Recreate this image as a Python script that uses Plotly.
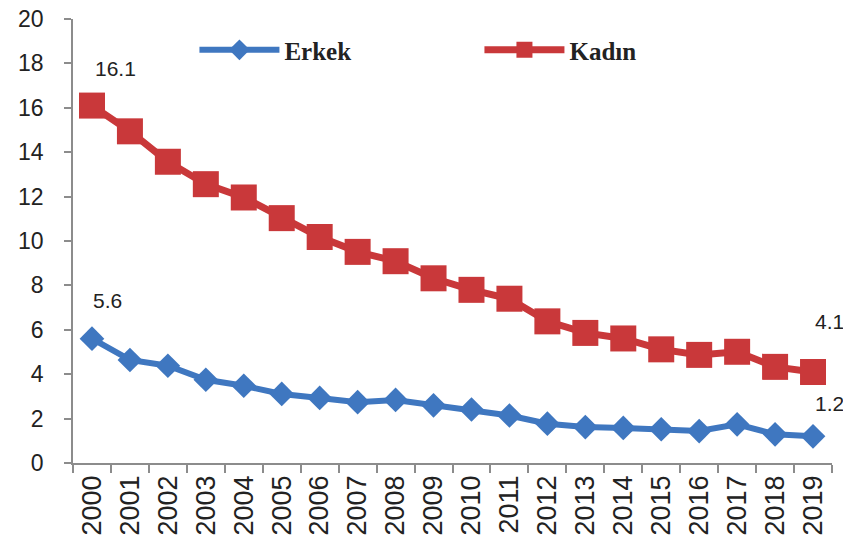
import plotly.graph_objects as go

years = [str(y) for y in range(2000, 2020)]
erkek = [5.6, 4.64, 4.38, 3.75, 3.48, 3.11, 2.93, 2.74, 2.84, 2.6,
         2.41, 2.14, 1.77, 1.62, 1.58, 1.52, 1.44, 1.74, 1.29, 1.2]
kadin = [16.1, 14.94, 13.57, 12.56, 11.96, 11.03, 10.18, 9.51, 9.09, 8.32,
         7.8, 7.4, 6.38, 5.86, 5.61, 5.12, 4.87, 5.01, 4.33, 4.1]
y_ticks = [0, 2, 4, 6, 8, 10, 12, 14, 16, 18, 20]

BLUE = "#3F77C0"
RED = "#C9383A"

fig = go.Figure()
fig.add_trace(go.Scatter(
    x=years, y=erkek, name="<b>Erkek</b>", mode="lines+markers",
    line=dict(color=BLUE, width=6),
    marker=dict(symbol="diamond", size=19, color=BLUE),
))
fig.add_trace(go.Scatter(
    x=years, y=kadin, name="<b>Kadın</b>", mode="lines+markers",
    line=dict(color=RED, width=7),
    marker=dict(symbol="square", size=26, color=RED),
))

label_font = dict(family="Liberation Sans, Arial, sans-serif", size=21, color="#222222")
for series, idx, dx, dy in [(erkek, 0, 16, 38), (kadin, 0, 24, 37),
                            (erkek, 19, 16, 33), (kadin, 19, 16, 50)]:
    fig.add_annotation(x=idx, y=series[idx], xref="x", yref="y",
                       text=f"{series[idx]:.1f}",
                       showarrow=False, xshift=dx, yshift=dy, font=label_font)

fig.update_layout(
    width=843, height=546,
    margin=dict(l=65, r=19, t=11, b=91, autoexpand=False),
    paper_bgcolor="white", plot_bgcolor="white",
    showlegend=True,
    legend=dict(
        orientation="h", x=0.16, y=0.93, xanchor="left", yanchor="middle",
        font=dict(family="Liberation Serif, Times New Roman, serif", size=25, color="#222222"),
        itemwidth=80, entrywidth=190, entrywidthmode="pixels",
        bgcolor="rgba(0,0,0,0)",
    ),
)
fig.update_xaxes(
    type="category", showgrid=False, showline=True, linecolor="#8C8C8C", linewidth=1.5,
    ticks="outside", tickson="boundaries", ticklen=8, tickcolor="#8C8C8C", tickwidth=1.5,
    tickangle=-90, automargin=False,
    tickfont=dict(family="Liberation Sans, Arial, sans-serif", size=27, color="#222222"),
    range=[-0.5, 19.5],
)
fig.update_yaxes(
    range=[0, 20], tickvals=y_ticks, showgrid=False, zeroline=False,
    showline=True, linecolor="#8C8C8C", linewidth=1.5, automargin=False,
    ticks="outside", ticklen=7, tickcolor="#8C8C8C", tickwidth=1.5,
    ticklabelstandoff=16, ticklabeloverflow="allow",
    tickfont=dict(family="Liberation Sans, Arial, sans-serif", size=23, color="#222222"),
)

fig.write_html("out.html")
